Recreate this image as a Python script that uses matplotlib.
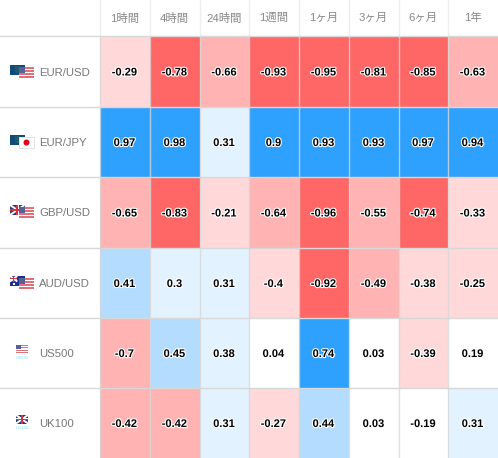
import matplotlib
matplotlib.use('Agg')
import matplotlib.pyplot as plt
import matplotlib.patheffects as pe
from matplotlib.colors import ListedColormap, BoundaryNorm
from matplotlib.patches import Rectangle, Circle
import numpy as np

plt.rcParams['font.family'] = ['Liberation Sans', 'Noto Sans CJK JP', 'DejaVu Sans']

periods = ['1時間', '4時間', '24時間', '1週間', '1ヶ月', '3ヶ月', '6ヶ月', '1年']
symbols = ['EUR/USD', 'EUR/JPY', 'GBP/USD', 'AUD/USD', 'US500', 'UK100']

eurusd = [-0.29, -0.78, -0.66, -0.93, -0.95, -0.81, -0.85, -0.63]
eurjpy = [0.97, 0.98, 0.31, 0.9, 0.93, 0.93, 0.97, 0.94]
gbpusd = [-0.65, -0.83, -0.21, -0.64, -0.96, -0.55, -0.74, -0.33]
audusd = [0.41, 0.3, 0.31, -0.4, -0.92, -0.49, -0.38, -0.25]
us500 = [-0.7, 0.45, 0.38, 0.04, 0.74, 0.03, -0.39, 0.19]
uk100 = [-0.42, -0.42, 0.31, -0.27, 0.44, 0.03, -0.19, 0.31]
values = np.array([eurusd, eurjpy, gbpusd, audusd, us500, uk100])

# column and row edges in pixels
x_edges = [100, 150, 200, 249, 299, 349, 399, 448, 498]
y_edges = [36, 107, 177, 248, 318, 388, 458]

cmap = ListedColormap(['#ff6666', '#ffb3b3', '#ffd9d9', '#ffffff', '#e3f2ff', '#b3dcff', '#2ea1ff'])
norm = BoundaryNorm([-1, -0.72, -0.41, -0.2, 0.2, 0.4, 0.7, 1], cmap.N)

fig = plt.figure(figsize=(4.98, 4.58), dpi=100)
ax = fig.add_axes([0, 0, 1, 1])
ax.set_xlim(0, 498)
ax.set_ylim(458, 0)
ax.axis('off')

ax.pcolormesh(x_edges, y_edges, values, cmap=cmap, norm=norm, zorder=1)

# table lines
for x in x_edges[:-1]:
    ax.plot([x - 0.5, x - 0.5], [0, 36], color='#eeeeee', lw=1, zorder=2)
    ax.plot([x - 0.5, x - 0.5], [36, 458], color='#d8d8d8', lw=1, alpha=0.8, zorder=2)
for y in y_edges[:-1]:
    ax.plot([0, 498], [y - 0.5, y - 0.5], color='#d8d8d8', lw=1, zorder=2)

for i, p in enumerate(periods):
    ax.text((x_edges[i] + x_edges[i + 1]) / 2 - 0.5, 18, p, ha='center', va='center',
            fontsize=8.2, color='#888888')

for r, s in enumerate(symbols):
    cy = (y_edges[r] + y_edges[r + 1]) / 2
    ax.text(39, cy + 1, s, ha='left', va='center', fontsize=8.2, color='#777777')
    for c in range(len(periods)):
        cx = (x_edges[c] + x_edges[c + 1]) / 2
        ax.text(cx - 0.5, cy + 1, str(values[r, c]), ha='center', va='center', fontsize=8,
                fontweight='bold', color='black', zorder=4,
                path_effects=[pe.withStroke(linewidth=1.6, foreground='white')])


def rect(x, y, w, h, col, alpha=1.0, z=3):
    ax.add_patch(Rectangle((x, y), w, h, fc=col, ec='none', alpha=alpha, zorder=z))


def us_flag(x, y, w, h, alpha=1.0):
    rect(x, y, w, h, '#ffffff', z=3)
    for k in range(0, 7, 2):
        rect(x, y + k * h / 7, w, h / 7, '#e0707a', alpha)
    rect(x, y, w * 0.42, h * 0.55, '#5a5f96', alpha)


def uk_flag(x, y, w, h):
    rect(x, y, w, h, '#2c3a80')
    ax.plot([x, x + w], [y, y + h], color='white', lw=1.4, zorder=3, solid_capstyle='butt')
    ax.plot([x, x + w], [y + h, y], color='white', lw=1.4, zorder=3, solid_capstyle='butt')
    rect(x + w * 0.38, y, w * 0.24, h, 'white')
    rect(x, y + h * 0.36, w, h * 0.28, 'white')
    rect(x + w * 0.44, y, w * 0.12, h, '#d8303c')
    rect(x, y + h * 0.42, w, h * 0.16, '#d8303c')


def eu_flag(x, y, w, h):
    rect(x, y, w, h, '#0f4c78')
    rect(x + 5, y + 1, 4, 7, '#1f5a70')


def au_flag(x, y, w, h):
    rect(x, y, w, h, '#1c2f8c')
    uk_flag(x, y, w * 0.5, h * 0.55)
    rect(x + 3, y + 7, 1.5, 1.5, 'white')
    rect(x + 10, y + 3, 1.2, 1.2, 'white')


def jp_flag(x, y, w, h):
    rect(x, y, w, h, '#ffffff')
    ax.add_patch(Rectangle((x, y), w, h, fc='none', ec='#dddddd', lw=0.6, zorder=3))
    ax.add_patch(Circle((x + w / 2, y + h / 2), 3, fc='#e6001a', ec='none', zorder=3))


# small flags left of the symbol names
eu_flag(10, 65, 14.5, 10)
us_flag(19, 67, 15, 11)
eu_flag(10, 135, 14.5, 10)
jp_flag(19, 137, 15, 11)
uk_flag(10, 205, 14.5, 10)
us_flag(19, 207, 15, 11)
au_flag(10, 276, 14.5, 10)
us_flag(19, 278, 15, 11)
us_flag(16, 345, 12, 8)
ax.text(22, 358, 'US500', ha='center', va='center', fontsize=3.2, color='#8fdcff')
uk_flag(16, 415, 12, 8.5)
ax.text(22, 428, 'UK100', ha='center', va='center', fontsize=3.2, color='#8fdcff')

fig.savefig('out.png', dpi=100)
